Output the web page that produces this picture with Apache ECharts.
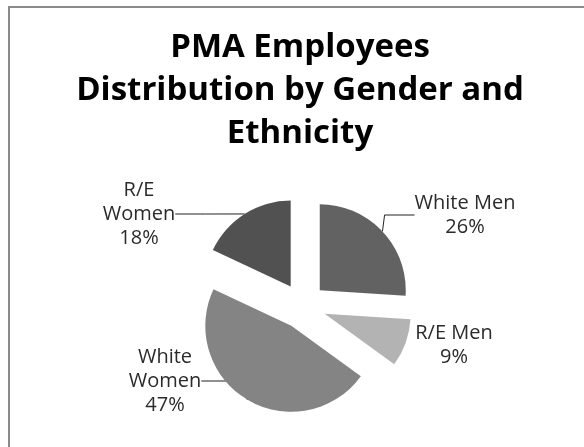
<!DOCTYPE html>
<html>
<head>
<meta charset="utf-8">
<script src="https://cdn.jsdelivr.net/npm/echarts@6/dist/echarts.min.js"></script>
<style>
  html, body { margin: 0; padding: 0; background: #fff; }
  #chart { width: 584px; height: 447px; }
</style>
</head>
<body>
<div id="chart"></div>
<script>
// 数据
const categories = ['White Men', 'R/E Men', 'White Women', 'R/E Women'];
const labelNames = ['White Men', 'R/E Men', 'White\nWomen', 'R/E\nWomen'];
const values = [26, 9, 47, 18];
const colors = ['#626262', '#b3b3b3', '#848484', '#515151'];

// label positions (px), Excel puts them by hand
const labelPos = [
  [465, 215],
  [454, 345],
  [165, 381],
  [139, 214],
];

const pieCenter = [303, 306];
const explode = 23; // exploded slice offset, px

const chartDom = document.getElementById('chart');
const chartIns = echarts.init(chartDom, null, {renderer: 'canvas'});

// each slice gets its own pie, pushed out along its mid angle (exploded pie)
const total = values.reduce((a, b) => a + b, 0);
let acc = 0;
const series = categories.map((cat, k) => {
  const mid = (acc + values[k] / 2) / total * Math.PI * 2;
  acc += values[k];
  return {
    type: 'pie',
    name: cat,
    center: [pieCenter[0] + explode * Math.sin(mid), pieCenter[1] - explode * Math.cos(mid)],
    radius: 86,
    startAngle: 90,
    silent: true,
    emphasis: {disabled: true},
    itemStyle: {borderWidth: 0},
    label: {
      position: 'outside',
      fontFamily: 'Open Sans',
      fontSize: 20,
      lineHeight: 24,
      color: '#2b2b2b',
      formatter: (p) => `${labelNames[p.dataIndex]}\n${Math.round(p.percent)}%`,
    },
    labelLine: {
      lineStyle: {color: '#222', width: 1},
    },
    labelLayout: (p) => ({
      x: labelPos[p.dataIndex][0],
      y: labelPos[p.dataIndex][1],
      align: 'center',
      verticalAlign: 'middle',
    }),
    data: categories.map((name, i) => ({
      name,
      value: values[i],
      itemStyle: {color: i === k ? colors[i] : 'rgba(0,0,0,0)'},
      label: {show: i === k},
      labelLine: {show: i === k && k !== 1},
    })),
  };
});

const options = {
  animation: false,
  title: {
    text: 'PMA Employees\nDistribution by Gender and\nEthnicity',
    left: 300,
    top: 26,
    padding: 0,
    textAlign: 'center',
    textStyle: {
      fontFamily: 'Open Sans',
      fontWeight: 'bold',
      fontSize: 33,
      lineHeight: 43,
      color: '#000',
    },
  },
  graphic: [
    {
      type: 'rect',
      shape: {x: 9, y: 7, width: 700, height: 600},
      style: {fill: null, stroke: '#8a8a8a', lineWidth: 2},
      silent: true,
    },
  ],
  series,
};

chartIns.setOption(options);
</script>
</body>
</html>
